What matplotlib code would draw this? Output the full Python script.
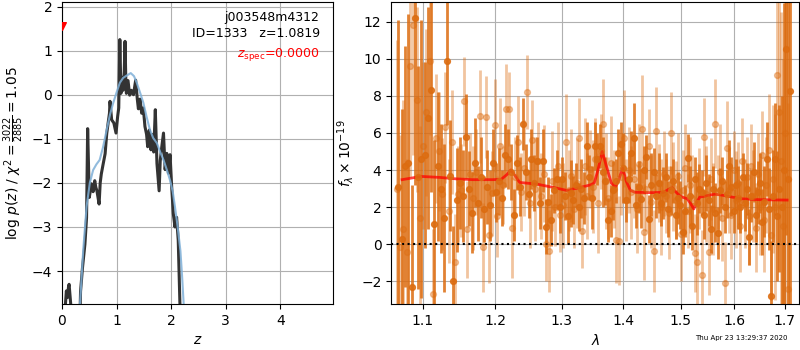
import numpy as np
import matplotlib
matplotlib.use('Agg')
import matplotlib.pyplot as plt

# redshift fit: log p(z) on the redshift grid
z_pdf = [0.06, 0.08, 0.10, 0.12, 0.13, 0.15, 0.17, 0.19,
         0.33, 0.34, 0.375, 0.42, 0.45, 0.47, 0.50, 0.54, 0.57, 0.60, 0.62,
         0.64, 0.68, 0.70, 0.72, 0.75, 0.79, 0.82, 0.85, 0.87, 0.88, 0.91,
         0.95, 0.99, 1.02, 1.04, 1.06, 1.08, 1.09, 1.12, 1.14, 1.155, 1.17,
         1.18, 1.21, 1.24, 1.27, 1.31, 1.35, 1.38, 1.40, 1.43, 1.46, 1.49,
         1.52, 1.55, 1.57, 1.60, 1.63, 1.66, 1.68, 1.71, 1.74, 1.78, 1.80,
         1.83, 1.86, 1.89, 1.92, 1.95, 1.98, 2.01, 2.04, 2.07, 2.10, 2.13,
         2.16, 2.18]
logp = [-4.8, -4.45, -4.6, -4.35, -4.3, -4.6, -4.9, -5.2,
        -5.0, -4.46, -3.93, -3.39, -2.79, -0.77, -2.33, -2.02, -2.2, -1.95, -2.1,
        -2.18, -2.48, -2.0, -1.8, -1.6, -1.34, -0.88, -0.6, -0.42, -0.15, -0.57,
        -0.64, -0.87, -0.49, -0.3, 1.25, 0.03, 0.4, 0.1, 0.5, 1.21, 0.3,
        0.03, 0.32, -0.01, 0.1, 0.0, 0.33, -0.1, -0.32, -0.1, -0.42, -0.3,
        -0.72, -0.9, -1.18, -0.8, -1.25, -0.9, -1.3, -0.34, -1.56, -2.18, -1.5,
        -1.17, -0.87, -1.7, -1.33, -1.78, -1.36, -2.09, -2.7, -3.0, -2.78, -3.3,
        -4.7, -5.2]

# smoothed p(z)
z_smooth = [0.33, 0.39, 0.45, 0.51, 0.57, 0.63, 0.69, 0.75, 0.82, 0.88,
            0.94, 1.00, 1.06, 1.12, 1.18, 1.26, 1.32, 1.37, 1.43, 1.49,
            1.55, 1.61, 1.67, 1.74, 1.80, 1.86, 1.92, 1.98, 2.03, 2.07,
            2.12, 2.17, 2.20, 2.23]
logp_smooth = [-4.75, -3.5, -2.54, -2.0, -1.71, -1.58, -1.48, -1.2, -0.79, -0.45,
               -0.18, 0.05, 0.27, 0.38, 0.43, 0.49, 0.42, 0.27, 0.05, -0.18,
               -0.5, -0.79, -0.98, -1.1, -1.3, -1.48, -1.7, -1.94, -2.2, -2.54,
               -3.0, -3.54, -4.1, -4.75]

# grism spectrum, first orient (flux and 1-sigma error, 1e-19 units)
flux_a = [3.1, 0.3, 4.2, 4.4, -2.3, 12.2, 3.6, 4.6, 4.8, 6.8,
          8.3, 1.1, 4.2, 3.0, 1.4, 9.9, 3.7, -2.0, 2.4, 3.3,
          2.6, 5.8, 3.0, 1.7, 4.4, 2.2, 3.6, 1.9, 3.1, 2.1,
          4.4, 2.8, 3.4, 2.5, 4.8, 4.6, 3.9, 1.6, 4.4, 3.1,
          6.5, 3.9, 2.7, 4.6, 3.3, 4.5, 2.2, 4.5, 0.95, 2.3,
          1.3, 2.9, 3.5, 2.0, 3.5, 2.6, 1.5, 2.75, 2.4, 3.2,
          2.0, 3.0, 2.5, 5.3, 3.6, 2.5, 5.3, 4.6, 5.3, 3.9,
          3.4, 1.3, 1.8, 2.9, 3.4, 4.9, 5.4, 4.1, 2.4, 3.5,
          4.9, 5.7, 2.1, 3.1, 2.45, 4.0, 4.7, 1.37, 3.2, 3.9,
          2.6, 3.3, 2.2, 2.75, 3.6, 1.9, 2.9, 3.4, 1.6, 2.5,
          2.1, 0.65, 1.8, 4.65, 2.6, 1.0, 3.5, 2.2, 3.0, 2.8,
          1.6, 3.3, 2.4, 0.8, 3.0, 1.7, 0.6, 2.9, 3.4, 2.0,
          2.7, 4.2, 3.1, 1.8, 3.2, 2.5, 2.0, 3.6, 2.2, 3.0,
          0.4, 2.6, 3.9, 1.6, 2.8, 3.3, 1.2, 2.3, 4.6, 1.9,
          -2.8, 2.6, 4.6, 1.5, 3.0, 2.0, 4.0, 10.5, 3.5, 8.25]
err_a = [9.0, 7.0, 6.5, 8.0, 5.5, 9.0, 6.0, 7.5, 5.0, 6.0,
         5.5, 4.5, 4.0, 3.5, 4.0, 3.5, 3.0, 3.0, 2.8, 2.5,
         2.5, 2.3, 2.0, 2.2, 2.4, 2.0, 2.2, 1.8, 2.0, 1.9,
         1.8, 1.6, 1.8, 1.5, 1.7, 1.6, 1.5, 1.4, 1.5, 1.6,
         1.4, 1.5, 1.3, 1.6, 1.5, 1.3, 1.4, 1.7, 1.5, 1.3,
         1.4, 1.2, 1.6, 1.4, 1.2, 1.3, 1.5, 1.8, 1.3, 1.2,
         1.3, 1.6, 1.4, 1.3, 1.2, 1.7, 1.3, 1.4, 1.2, 1.9,
         1.3, 1.2, 1.4, 1.6, 1.2, 1.3, 1.2, 1.9, 1.2, 1.3,
         1.2, 1.9, 1.2, 1.4, 1.6, 1.3, 1.2, 1.3, 1.7, 1.3,
         1.2, 1.6, 1.2, 1.4, 1.3, 1.5, 1.3, 1.2, 1.3, 1.4,
         1.3, 1.2, 1.4, 1.3, 1.6, 1.3, 1.2, 1.7, 1.3, 1.2,
         1.3, 1.5, 1.4, 1.3, 1.2, 1.6, 1.4, 1.2, 1.3, 1.4,
         1.3, 1.4, 1.6, 1.2, 1.4, 1.7, 1.4, 1.3, 1.5, 1.4,
         1.5, 1.4, 1.6, 1.5, 1.7, 1.6, 1.8, 1.9, 2.0, 2.2,
         3.0, 2.5, 3.0, 3.5, 4.5, 6.0, 9.0, 10.0, 12.0, 12.0]

# second orient
flux_b = [3.0, -0.13, 0.8, -0.4, 9.6, 11.8, 7.8, 1.39, 5.3, 7.1,
          9.9, -2.7, 5.7, 5.0, 2.7, 6.3, 1.78, 5.5, -0.96, 2.7,
          2.9, 7.7, 0.8, 3.8, 2.5, 3.9, 6.9, -0.17, 6.85, 0.5,
          2.75, 6.4, 1.5, 5.3, 3.2, 7.3, 7.3, 0.9, 3.6, 5.5,
          2.8, 4.1, 8.2, 2.2, 5.6, 3.0, 4.5, 2.6, 3.8, 0.0,
          -0.35, 3.4, 2.0, 4.2, 1.6, 2.1, 5.5, 2.9, 3.7, 1.9,
          3.3, 5.7, 0.7, 4.2, 2.6, 4.05, 3.1, 4.6, 2.2, 5.0,
          6.5, 3.4, 2.5, 4.4, 3.0, 0.23, 0.2, 3.6, 5.7, 2.4,
          4.0, 2.8, 3.5, 1.9, 4.3, 6.2, 0.65, 3.0, 5.3, 2.3,
          -0.36, 6.1, 3.3, 2.0, 3.8, 2.6, 1.7, 6.0, 3.1, 2.4,
          3.7, 0.54, 2.9, 4.1, 1.8, 3.2, 2.5, -0.45, -0.97, 3.0,
          -1.66, 5.8, 2.7, -0.43, 3.5, 1.9, 6.5, 2.8, 3.9, 1.4,
          -2.07, 5.2, 2.9, 1.6, 4.0, 2.4, 3.3, 1.0, 4.5, 2.2,
          3.6, 1.5, 4.2, 2.6, 0.9, 3.8, 2.0, 4.8, 1.3, 3.2,
          5.1, 0.5, 3.5, 2.0, 9.1, 7.1, 4.5, 1.0, 6.0, -2.4]
err_b = [8.0, 6.0, 7.0, 5.0, 6.0, 7.0, 5.0, 5.0, 4.5, 4.5,
         4.0, 3.5, 3.5, 3.2, 3.0, 3.0, 2.8, 2.8, 2.6, 2.6,
         2.5, 2.4, 2.6, 2.2, 2.8, 2.3, 2.5, 2.4, 2.2, 2.6,
         2.3, 2.5, 2.2, 2.6, 2.1, 2.4, 2.0, 2.7, 2.2, 2.5,
         2.1, 2.6, 2.0, 2.4, 2.2, 2.8, 2.1, 2.3, 2.6, 2.0,
         2.2, 2.7, 2.1, 2.4, 2.0, 2.3, 2.6, 2.2, 2.5, 2.1,
         2.4, 2.2, 2.0, 2.6, 2.3, 2.1, 2.5, 2.2, 2.7, 2.0,
         2.4, 2.6, 2.2, 2.5, 2.1, 2.3, 2.4, 2.0, 2.6, 2.2,
         2.3, 2.5, 2.1, 2.4, 2.2, 2.9, 2.6, 2.3, 2.0, 2.5,
         2.2, 2.4, 2.1, 2.6, 2.3, 2.0, 2.5, 2.2, 2.4, 2.1,
         2.3, 2.5, 2.2, 2.4, 2.0, 2.6, 2.3, 2.1, 2.5, 2.2,
         2.4, 2.1, 2.6, 2.3, 2.2, 2.5, 2.4, 2.0, 2.6, 2.3,
         2.2, 2.5, 2.3, 2.4, 2.1, 2.6, 2.2, 2.5, 2.3, 2.4,
         2.2, 2.6, 2.3, 2.5, 2.4, 2.2, 2.6, 2.4, 2.8, 2.6,
         3.0, 3.5, 4.0, 5.0, 6.0, 7.0, 8.0, 9.0, 10.0, 10.0]

# best-fit model
lam_model = [1.073, 1.09, 1.10, 1.123, 1.146, 1.168, 1.197, 1.209, 1.217, 1.223,
             1.229, 1.236, 1.262, 1.291, 1.308, 1.332, 1.346, 1.352, 1.358, 1.365,
             1.372, 1.38, 1.387, 1.393, 1.399, 1.405, 1.412, 1.42, 1.45, 1.47,
             1.478, 1.485, 1.492, 1.50, 1.512, 1.518, 1.524, 1.53, 1.535, 1.563,
             1.576, 1.612, 1.65, 1.705]
flux_model = [3.48, 3.6, 3.65, 3.6, 3.52, 3.48, 3.48, 3.5, 3.75, 4.0,
              3.7, 3.33, 3.24, 3.03, 2.9, 3.08, 3.2, 3.3, 4.0, 5.0,
              4.2, 3.3, 3.1, 3.5, 4.1, 3.4, 2.9, 2.8, 2.78, 2.8,
              2.95, 3.04, 2.8, 2.57, 2.45, 2.2, 1.9, 2.3, 2.54, 2.7,
              2.65, 2.45, 2.4, 2.38]

lam_a = np.linspace(1.068, 1.711, len(flux_a))
lam_b = np.linspace(1.066, 1.706, len(flux_b))

fig = plt.figure(figsize=(8, 3.5), dpi=100)

# p(z) panel
ax = fig.add_axes([0.0775, 0.131, 0.339, 0.863])
ax.plot(z_pdf, logp, color='#333333', lw=2.2)
ax.plot(z_smooth, logp_smooth, color='#7fb0d8', lw=1.5, alpha=0.85)
ax.scatter([0.0], [1.55], marker='v', color='red', s=30, zorder=5)
ax.set_xlim(0, 4.97)
ax.set_ylim(-4.75, 2.1)
ax.set_xticks([0, 1, 2, 3, 4])
ax.set_xlabel('$z$')
ax.set_ylabel(r'log $p(z)$ / $\chi^2=\frac{3022}{2885}=1.05$')
ax.grid(True)
ax.text(0.95, 0.97, 'j003548m4312\nID=1333   z=1.0819', transform=ax.transAxes,
        ha='right', va='top', fontsize=9, linespacing=1.3)
ax.text(0.95, 0.855, r'$z_\mathrm{spec}$=0.0000', transform=ax.transAxes,
        ha='right', va='top', fontsize=9, color='red')

# spectrum panel
ax2 = fig.add_axes([0.489, 0.131, 0.51, 0.863])
orange = '#dc6c10'
ax2.errorbar(lam_b, flux_b, yerr=err_b, marker='o', ms=4.2, color=orange,
             linestyle='None', elinewidth=2, alpha=0.4)
ax2.errorbar(lam_a, flux_a, yerr=err_a, marker='o', ms=4.2, color=orange,
             linestyle='None', elinewidth=2, alpha=0.85)
ax2.plot(lam_model, flux_model, color='red', lw=2, alpha=0.75)
ax2.axhline(0, color='k', linestyle=':', lw=1.5)
ax2.set_xscale('log')
ax2.set_xlim(1.059, 1.73)
ax2.set_ylim(-3.23, 13.05)
ticks = [1.1, 1.2, 1.3, 1.4, 1.5, 1.6, 1.7]
ax2.set_xticks(ticks)
ax2.set_xticklabels([f'{t:.1f}' for t in ticks])
ax2.xaxis.set_minor_locator(matplotlib.ticker.NullLocator())
ax2.set_yticks([-2, 0, 2, 4, 6, 8, 10, 12])
ax2.set_xlabel(r'$\lambda$')
ax2.set_ylabel(r'$f_\lambda \times 10^{-19}$')
ax2.grid(True)

fig.text(0.985, 0.025, 'Thu Apr 23 13:29:37 2020', ha='right', va='bottom', fontsize=5)

fig.savefig('out.png', dpi=100)
